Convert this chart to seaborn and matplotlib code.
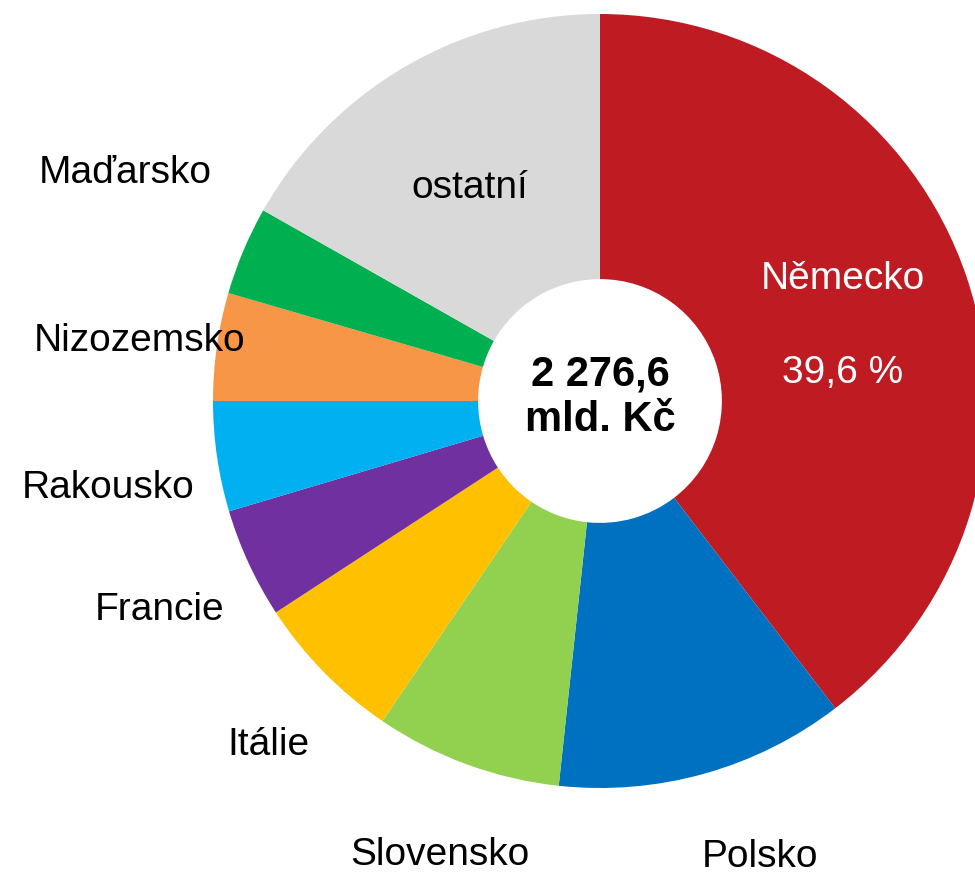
import matplotlib
matplotlib.use("Agg")
import matplotlib.pyplot as plt
import seaborn as sns

# share of total (%), clockwise from 12 o'clock
countries = ["Německo", "Polsko", "Slovensko", "Itálie", "Francie",
             "Rakousko", "Nizozemsko", "Maďarsko", "ostatní"]
shares = [39.6, 12.1, 7.8, 6.3, 4.6, 4.6, 4.5, 3.7, 16.8]
colors = ["#BE1B23", "#0070C0", "#92D050", "#FFC000", "#7030A0",
          "#00B0F0", "#F79646", "#00B050", "#D9D9D9"]
total_label = "2 276,6\nmld. Kč"
main_share_label = "39,6 %"

# label positions in pie units (radius = 1)
label_pos = {
    "Německo": (0.628, 0.315),
    "Polsko": (0.413, -1.178),
    "Slovensko": (-0.413, -1.173),
    "Itálie": (-0.858, -0.889),
    "Francie": (-1.137, -0.540),
    "Rakousko": (-1.271, -0.225),
    "Nizozemsko": (-1.191, 0.155),
    "Maďarsko": (-1.227, 0.589),
    "ostatní": (-0.336, 0.550),
}


def main():
    sns.set_theme(style="white")
    plt.rcParams["font.family"] = ["Liberation Sans", "DejaVu Sans"]
    plt.rcParams["text.color"] = "black"

    fig = plt.figure(figsize=(9.75, 8.73), dpi=100)
    ax = fig.add_axes([0, 0, 1, 1])

    ax.pie(shares, colors=colors, startangle=90, counterclock=False,
           radius=1, wedgeprops=dict(width=1 - 0.315, linewidth=0))

    for name in countries:
        x, y = label_pos[name]
        color = "white" if name == "Německo" else "black"
        ax.text(x, y, name, ha="center", va="center", fontsize=28, color=color)

    ax.text(0.628, 0.072, main_share_label, ha="center", va="center",
            fontsize=28, color="white")
    ax.text(0, 0.010, total_label, ha="center", va="center", fontsize=30,
            fontweight="bold", linespacing=1.2, color="black")

    ax.set_xlim(-600 / 387, 375 / 387)
    ax.set_ylim(-472 / 387, 401 / 387)
    ax.set_aspect("auto")
    ax.axis("off")

    fig.savefig("out.png", dpi=100)
    plt.close(fig)


if __name__ == "__main__":
    main()
